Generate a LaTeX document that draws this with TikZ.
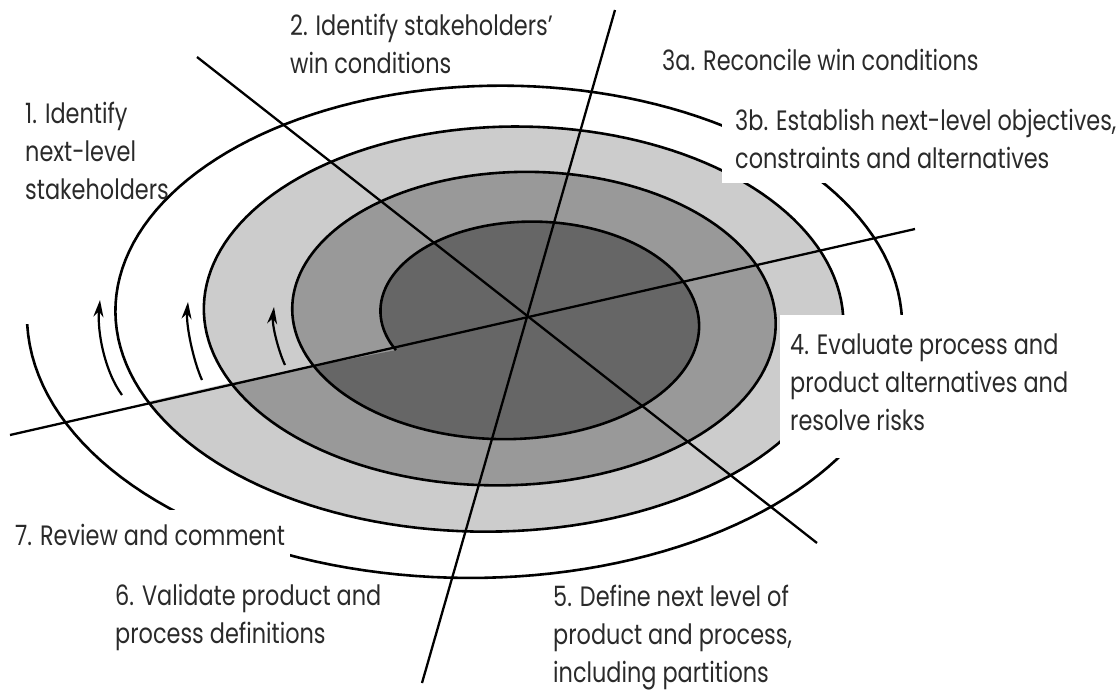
\documentclass[tikz,border=0pt]{standalone}
\usepackage{fontspec}
\setmainfont{Poppins}[FakeStretch=0.8]
\usetikzlibrary{arrows.meta}
\definecolor{darkg}{HTML}{666666}
\definecolor{midg}{HTML}{999999}
\definecolor{lightg}{HTML}{CCCCCC}
\definecolor{textg}{HTML}{2A2A2A}
\begin{document}
\begin{tikzpicture}[x=1pt,y=-1pt,
  declare function={
    Lf(\s)=386.5-88.5*\s;
    Rf(\s)=697+81.5*(\s-0.54)-4.5*(\s-0.54)*(\s-0.54);
    Tf(\s)=223-52.25*(\s-0.29)+2.25*(\s-0.29)*(\s-0.29);
    Bf(\s)=438+46.3*(\s-0.79);
    al(\s)=158.23+360*\s;
    SX(\s)=(Lf(\s)+Rf(\s))/2+(Rf(\s)-Lf(\s))/2*cos(al(\s));
    SY(\s)=(Tf(\s)+Bf(\s))/2+(Bf(\s)-Tf(\s))/2*sin(al(\s));
  },
  ring/.style={line width=2.6pt, black, line join=round},
  axis/.style={line width=2.3pt, black},
  arr/.style={line width=2.2pt, black, -{Stealth[length=17pt,width=10pt]}},
  mask/.style={fill=white, draw=none},
  lbl/.style={font=\fontsize{28}{38}\selectfont, text=textg, align=left,
              inner sep=0pt, anchor=base west}
]
\useasboundingbox (0,0) rectangle (1120,694);
\fill[white] (0,0) rectangle (1120,694);

% shaded spiral bands
\fill[lightg] plot[domain=2:3, samples=160, variable=\s] ({SX(\s)},{SY(\s)}) -- cycle;
\fill[midg]   plot[domain=1:2, samples=160, variable=\s] ({SX(\s)},{SY(\s)}) -- cycle;
\fill[darkg]  plot[domain=0:1, samples=160, variable=\s] ({SX(\s)},{SY(\s)}) -- cycle;

% the spiral line
\draw[ring] plot[domain=0:4.063, samples=650, variable=\s] ({SX(\s)},{SY(\s)});

% white backgrounds of the labels that cover the spiral
\fill[mask] (722,98) rectangle (1120,183);
\fill[mask] (780,315) rectangle (1120,458);
\fill[mask] (8,510) rectangle (290,560);

% the three crossing lines
\coordinate (A1) at (197,57);  \coordinate (A2) at (817,543);
\coordinate (B1) at (615,10);  \coordinate (B2) at (422,683);
\coordinate (C1) at (10,435);  \coordinate (C2) at (915,229);
\draw[axis] (A1) -- (A2);
\draw[axis] (B1) -- (B2);
\draw[axis] (C1) -- (C2);

% arrows
\coordinate (a1s) at (122,395); \coordinate (a1e) at (100,300);
\coordinate (a2s) at (202,380); \coordinate (a2e) at (188,302);
\coordinate (a3s) at (285,365); \coordinate (a3e) at (274,307);
\draw[arr] (a1s) .. controls (105,372) and (97,332) .. (a1e);
\draw[arr] (a2s) .. controls (193,360) and (186,325) .. (a2e);
\draw[arr] (a3s) .. controls (278,350) and (272,325) .. (a3e);

% labels (anchored at the baseline of their last line)
\node[lbl] (t1) at (25,199) {1. Identify\\next-level\\stakeholders};
\node[lbl] (t2) at (290,73) {2. Identify stakeholders'\\win conditions};
\node[lbl] (t3a) at (662,70) {3a. Reconcile win conditions};
\node[lbl] (t3b) at (735,168) {3b. Establish next-level objectives,\\constraints and alternatives};
\node[lbl] (t4) at (790,430) {4. Evaluate process and\\product alternatives and\\resolve risks};
\node[lbl] (t5) at (553,682) {5. Define next level of\\product and process,\\including partitions};
\node[lbl] (t6) at (115,643) {6. Validate product and\\process definitions};
\node[lbl] (t7) at (15,545) {7. Review and comment};
\end{tikzpicture}
\end{document}
